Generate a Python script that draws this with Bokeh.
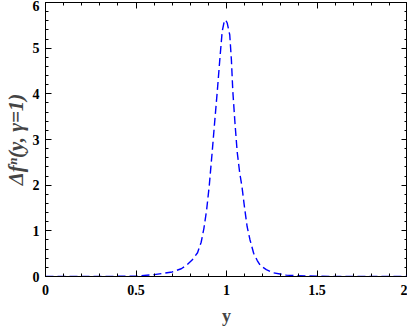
from bokeh.plotting import figure
from bokeh.models import LinearAxis, FixedTicker, ColumnDataSource, Range1d
from bokeh.embed import file_html
from bokeh.resources import INLINE

# data
y_vals = [0.0, 0.3, 0.5, 0.6, 0.7, 0.75, 0.78, 0.81, 0.84, 0.86, 0.875, 0.89, 0.905,
          0.921, 0.935, 0.949, 0.962, 0.976, 0.987, 0.995, 1.004, 1.018, 1.027, 1.035,
          1.047, 1.059, 1.072, 1.086, 1.10, 1.114, 1.13, 1.15, 1.17, 1.187, 1.22, 1.26,
          1.33, 1.45, 1.6, 2.0]
df_vals = [0.0, 0.0, 0.01, 0.04, 0.1, 0.17, 0.25, 0.36, 0.52, 0.75, 1.05, 1.45, 2.0,
           2.73, 3.4, 4.05, 4.7, 5.36, 5.58, 5.62, 5.55, 5.29, 4.75, 4.05,
           3.35, 2.73, 2.3, 1.95, 1.5, 1.09, 0.8, 0.51, 0.35, 0.24, 0.15, 0.08,
           0.03, 0.01, 0.0, 0.0]

x_ticks = [0, 0.5, 1, 1.5, 2]
x_tick_labels = ["0", "0.5", "1", "1.5", "2"]
x_minor = [i / 10 for i in range(0, 21)]
y_ticks = [0, 1, 2, 3, 4, 5, 6]
y_tick_labels = ["0", "1", "2", "3", "4", "5", "6"]
y_minor = [i / 5 for i in range(0, 31)]

FONT = "Liberation Serif"

p = figure(frame_width=362, frame_height=274, output_backend="svg", toolbar_location=None,
           x_range=Range1d(0, 2), y_range=Range1d(0, 6),
           min_border_left=0, min_border_right=0, min_border_top=2, min_border_bottom=0)
p.grid.visible = False
p.outline_line_color = "black"
p.background_fill_color = "white"
p.border_fill_color = "white"

src = ColumnDataSource(dict(x=y_vals, y=df_vals))
p.line("x", "y", source=src, line_color="#0000ff", line_width=1.4, line_dash="8 4")

def style(ax, labels, ticks, minor, show_labels=True):
    ax.ticker = FixedTicker(ticks=ticks, minor_ticks=minor)
    ax.major_label_overrides = {t: l for t, l in zip(ticks, labels)}
    ax.major_tick_in = 6
    ax.major_tick_out = 0
    ax.minor_tick_in = 3
    ax.minor_tick_out = 0
    ax.axis_line_color = "black"
    ax.major_tick_line_color = "black"
    ax.minor_tick_line_color = "black"
    ax.major_label_text_font = FONT
    ax.major_label_text_font_style = "bold"
    ax.major_label_text_font_size = "14px"
    ax.major_label_text_color = "black"
    if not show_labels:
        ax.major_label_overrides = {t: "" for t in ticks}
        ax.major_label_text_color = None
        ax.major_label_text_font_size = "0px"
        ax.major_label_standoff = 0
        ax.axis_label_standoff = 0

style(p.xaxis[0], x_tick_labels, x_ticks, x_minor)
style(p.yaxis[0], y_tick_labels, y_ticks, y_minor)
p.xaxis[0].major_label_standoff = 8
p.yaxis[0].major_label_standoff = 6

p.xaxis[0].axis_label = "y"
p.xaxis[0].axis_label_text_font = FONT
p.xaxis[0].axis_label_text_font_style = "bold"
p.xaxis[0].axis_label_text_font_size = "18px"
p.xaxis[0].axis_label_standoff = 8

p.yaxis[0].axis_label = "Δfⁿ(y, γ=1)"
p.yaxis[0].axis_label_text_font = FONT
p.yaxis[0].axis_label_text_font_style = "bold italic"
p.yaxis[0].axis_label_text_font_size = "21px"
p.yaxis[0].axis_label_standoff = 2

top = LinearAxis()
style(top, x_tick_labels, x_ticks, x_minor, show_labels=False)
p.add_layout(top, "above")
right = LinearAxis()
style(right, y_tick_labels, y_ticks, y_minor, show_labels=False)
p.add_layout(right, "right")

open("out.html", "w").write(file_html(p, INLINE))
